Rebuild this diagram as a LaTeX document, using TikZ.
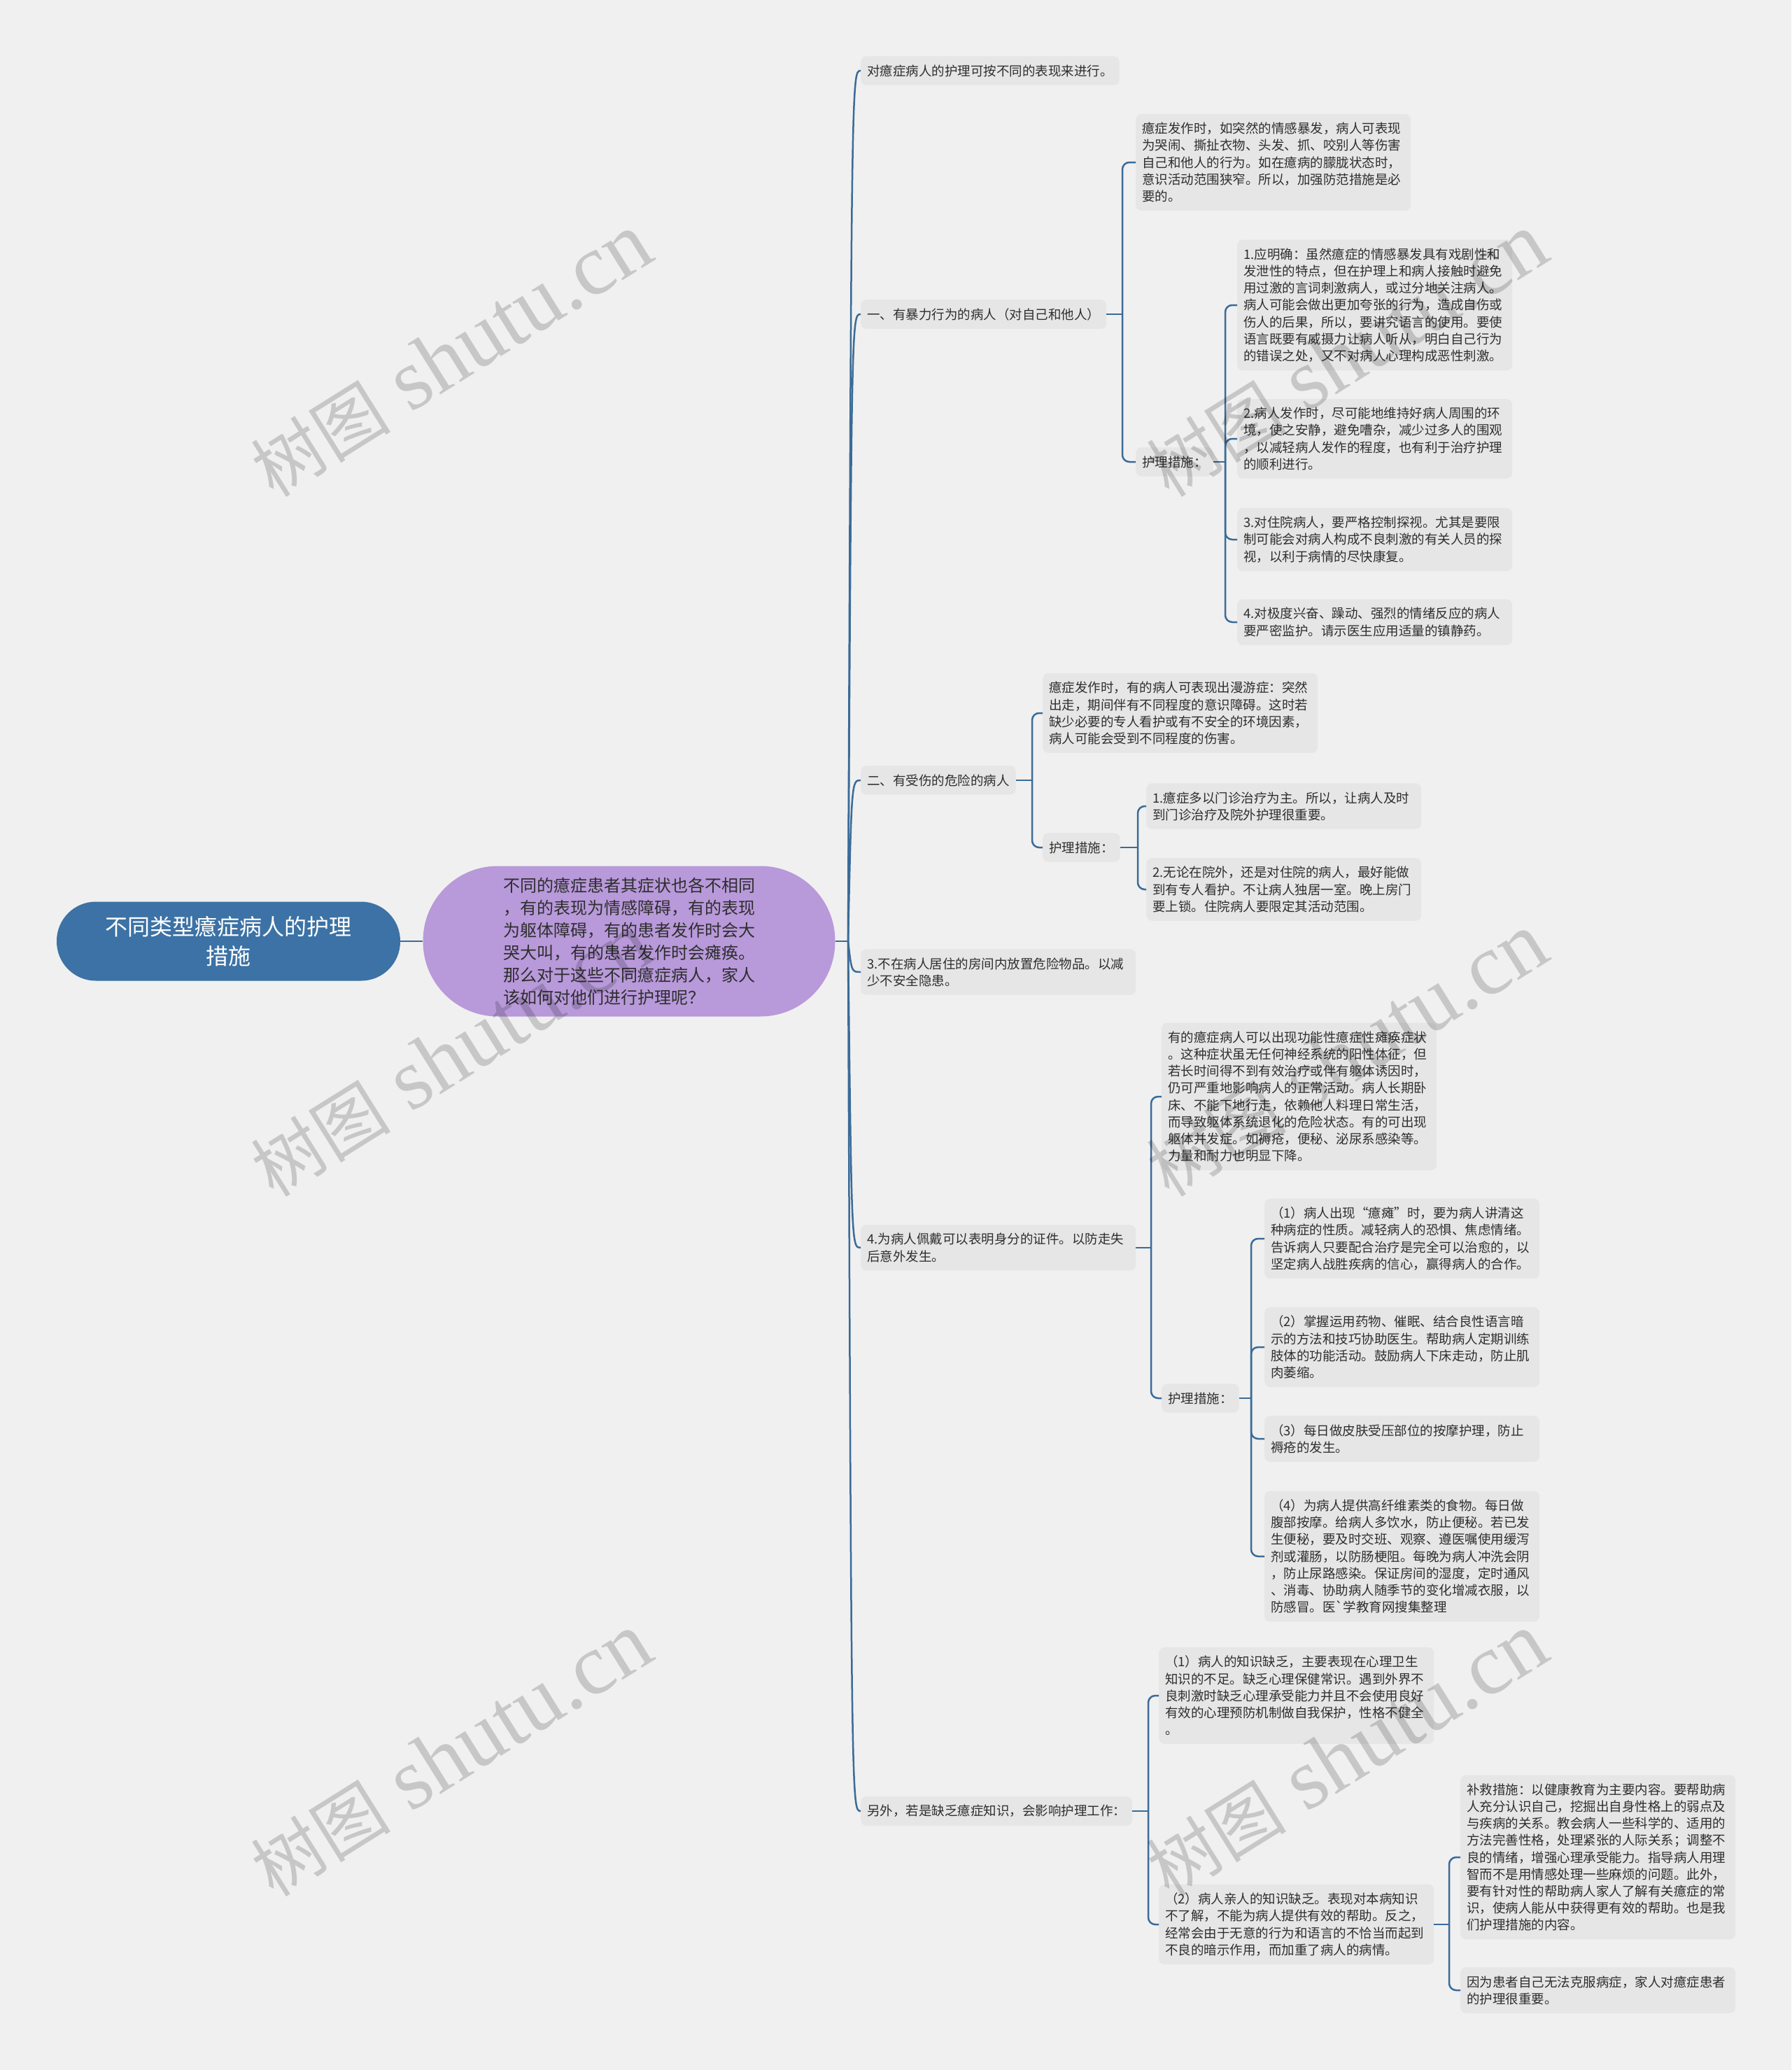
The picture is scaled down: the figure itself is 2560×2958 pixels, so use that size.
\documentclass[tikz,border=0pt]{standalone}
\usepackage{fontspec}
\newfontfamily\cjk{Noto Sans CJK SC}
\newfontfamily\wmserif{Liberation Serif}
\definecolor{bgc}{HTML}{F0F0F0}
\definecolor{boxc}{HTML}{E6E6E6}
\definecolor{linec}{HTML}{3B6B98}
\definecolor{rootc}{HTML}{3C72A5}
\definecolor{purp}{HTML}{B899DA}
\definecolor{txt}{HTML}{2E2E2E}
\tikzset{
  leaf/.style={fill=boxc, rounded corners=8pt, inner xsep=9pt, inner ysep=12pt, align=left, anchor=west, text=txt, font=\cjk\fontsize{18.5}{24.2}\selectfont},
  wide/.style={text width=375pt},
  conn/.style={draw=linec, line width=2.5pt, rounded corners=10pt},
  wm/.style={text=black, opacity=0.17, rotate=32, inner sep=0pt}
}
\begin{document}
\begin{tikzpicture}[x=1pt,y=-1pt]
\fill[bgc] (0,0) rectangle (2560,2958);
\useasboundingbox (0,0) rectangle (2560,2958);

% root and centre
\node[fill=rootc, rounded corners=56pt, minimum width=491pt, minimum height=113pt, text=white, align=center, font=\cjk\fontsize{32}{41.5}\selectfont, inner sep=0pt] (root) at (326.5,1345) {不同类型癔症病人的护理\\措施};
\node[fill=purp, rounded corners=107pt, minimum width=589pt, minimum height=215pt, text=txt, align=left, font=\cjk\fontsize{24}{32}\selectfont, inner sep=0pt] (ctr) at (899,1345) {不同的癔症患者其症状也各不相同\\，有的表现为情感障碍，有的表现\\为躯体障碍，有的患者发作时会大\\哭大叫，有的患者发作时会瘫痪。\\那么对于这些不同癔症病人，家人\\该如何对他们进行护理呢？};

% level 1
\node[leaf] (a1) at (1230,101) {对癔症病人的护理可按不同的表现来进行。};
\node[leaf] (b1) at (1230,449) {一、有暴力行为的病人（对自己和他人）};
\node[leaf] (c1) at (1230,1115) {二、有受伤的危险的病人};
\node[leaf,wide] (d1) at (1230,1389) {3.不在病人居住的房间内放置危险物品。以减\\少不安全隐患。};
\node[leaf,wide] (e1) at (1230,1783) {4.为病人佩戴可以表明身分的证件。以防走失\\后意外发生。};
\node[leaf] (f1) at (1230,2588) {另外，若是缺乏癔症知识，会影响护理工作：};

% branch b
\node[leaf,wide] (b2a) at (1623,232) {癔症发作时，如突然的情感暴发，病人可表现\\为哭闹、撕扯衣物、头发、抓、咬别人等伤害\\自己和他人的行为。如在癔病的朦胧状态时，\\意识活动范围狭窄。所以，加强防范措施是必\\要的。};
\node[leaf] (b2b) at (1623,660) {护理措施：};
\node[leaf,wide] (b3a) at (1768,436) {1.应明确：虽然癔症的情感暴发具有戏剧性和\\发泄性的特点，但在护理上和病人接触时避免\\用过激的言词刺激病人，或过分地关注病人。\\病人可能会做出更加夸张的行为，造成自伤或\\伤人的后果，所以，要讲究语言的使用。要使\\语言既要有威摄力让病人听从，明白自己行为\\的错误之处，又不对病人心理构成恶性刺激。};
\node[leaf,wide] (b3b) at (1768,627) {2.病人发作时，尽可能地维持好病人周围的环\\境，使之安静，避免嘈杂，减少过多人的围观\\，以减轻病人发作的程度，也有利于治疗护理\\的顺利进行。};
\node[leaf,wide] (b3c) at (1768,771) {3.对住院病人，要严格控制探视。尤其是要限\\制可能会对病人构成不良刺激的有关人员的探\\视，以利于病情的尽快康复。};
\node[leaf,wide] (b3d) at (1768,889) {4.对极度兴奋、躁动、强烈的情绪反应的病人\\要严密监护。请示医生应用适量的镇静药。};

% branch c
\node[leaf,wide] (c2a) at (1490,1019) {癔症发作时，有的病人可表现出漫游症：突然\\出走，期间伴有不同程度的意识障碍。这时若\\缺少必要的专人看护或有不安全的环境因素，\\病人可能会受到不同程度的伤害。};
\node[leaf] (c2b) at (1490,1211) {护理措施：};
\node[leaf,wide] (c3a) at (1638,1152) {1.癔症多以门诊治疗为主。所以，让病人及时\\到门诊治疗及院外护理很重要。};
\node[leaf,wide] (c3b) at (1638,1271) {2.无论在院外，还是对住院的病人，最好能做\\到有专人看护。不让病人独居一室。晚上房门\\要上锁。住院病人要限定其活动范围。};

% branch e
\node[leaf,wide] (e2a) at (1660,1567) {有的癔症病人可以出现功能性癔症性瘫痪症状\\。这种症状虽无任何神经系统的阳性体征，但\\若长时间得不到有效治疗或伴有躯体诱因时，\\仍可严重地影响病人的正常活动。病人长期卧\\床、不能下地行走，依赖他人料理日常生活，\\而导致躯体系统退化的危险状态。有的可出现\\躯体并发症。如褥疮，便秘、泌尿系感染等。\\力量和耐力也明显下降。};
\node[leaf] (e2b) at (1660,1998) {护理措施：};
\node[leaf,wide] (e3a) at (1807,1770) {（1）病人出现“癔瘫”时，要为病人讲清这\\种病症的性质。减轻病人的恐惧、焦虑情绪。\\告诉病人只要配合治疗是完全可以治愈的，以\\坚定病人战胜疾病的信心，赢得病人的合作。};
\node[leaf,wide] (e3b) at (1807,1925) {（2）掌握运用药物、催眠、结合良性语言暗\\示的方法和技巧协助医生。帮助病人定期训练\\肢体的功能活动。鼓励病人下床走动，防止肌\\肉萎缩。};
\node[leaf,wide] (e3c) at (1807,2056) {（3）每日做皮肤受压部位的按摩护理，防止\\褥疮的发生。};
\node[leaf,wide] (e3d) at (1807,2224) {（4）为病人提供高纤维素类的食物。每日做\\腹部按摩。给病人多饮水，防止便秘。若已发\\生便秘，要及时交班、观察、遵医嘱使用缓泻\\剂或灌肠，以防肠梗阻。每晚为病人冲洗会阴\\，防止尿路感染。保证房间的湿度，定时通风\\、消毒、协助病人随季节的变化增减衣服，以\\防感冒。医`学教育网搜集整理};

% branch f
\node[leaf,wide] (f2a) at (1656,2423) {（1）病人的知识缺乏，主要表现在心理卫生\\知识的不足。缺乏心理保健常识。遇到外界不\\良刺激时缺乏心理承受能力并且不会使用良好\\有效的心理预防机制做自我保护，性格不健全\\。};
\node[leaf,wide] (f2b) at (1656,2750) {（2）病人亲人的知识缺乏。表现对本病知识\\不了解，不能为病人提供有效的帮助。反之，\\经常会由于无意的行为和语言的不恰当而起到\\不良的暗示作用，而加重了病人的病情。};
\node[leaf,wide] (f3a) at (2087,2654) {补救措施：以健康教育为主要内容。要帮助病\\人充分认识自己，挖掘出自身性格上的弱点及\\与疾病的关系。教会病人一些科学的、适用的\\方法完善性格，处理紧张的人际关系；调整不\\良的情绪，增强心理承受能力。指导病人用理\\智而不是用情感处理一些麻烦的问题。此外，\\要有针对性的帮助病人家人了解有关癔症的常\\识，使病人能从中获得更有效的帮助。也是我\\们护理措施的内容。};
\node[leaf,wide] (f3b) at (2087,2844) {因为患者自己无法克服病症，家人对癔症患者\\的护理很重要。};

% connectors
\draw[conn] (root.east) -- (ctr.west);
\coordinate (s1) at (1212,1345);
\draw[conn] (ctr.east) -- (s1);
\foreach \n in {a1,b1,c1,d1,e1,f1}{
  \draw[draw=linec, line width=2.5pt] (s1) .. controls (1217,0 |- \n.west) and (1217,0 |- \n.west) .. (\n.west);
}
% b
\coordinate (sb) at (1604,449);
\draw[conn] (b1.east) -- (sb);
\foreach \n in {b2a,b2b}{\draw[conn] (sb) -- (sb |- \n.west) -- (\n.west);}
\coordinate (sbb) at (1751,660);
\draw[conn] (b2b.east) -- (sbb);
\foreach \n in {b3a,b3b,b3c,b3d}{\draw[conn] (sbb) -- (sbb |- \n.west) -- (\n.west);}
% c
\coordinate (sc) at (1475,1115);
\draw[conn] (c1.east) -- (sc);
\foreach \n in {c2a,c2b}{\draw[conn] (sc) -- (sc |- \n.west) -- (\n.west);}
\coordinate (scb) at (1626,1211);
\draw[conn] (c2b.east) -- (scb);
\foreach \n in {c3a,c3b}{\draw[conn] (scb) -- (scb |- \n.west) -- (\n.west);}
% e
\coordinate (se) at (1645,1783);
\draw[conn] (e1.east) -- (se);
\foreach \n in {e2a,e2b}{\draw[conn] (se) -- (se |- \n.west) -- (\n.west);}
\coordinate (seb) at (1788,1998);
\draw[conn] (e2b.east) -- (seb);
\foreach \n in {e3a,e3b,e3c,e3d}{\draw[conn] (seb) -- (seb |- \n.west) -- (\n.west);}
% f
\coordinate (sf) at (1641,2588);
\draw[conn] (f1.east) -- (sf);
\foreach \n in {f2a,f2b}{\draw[conn] (sf) -- (sf |- \n.west) -- (\n.west);}
\coordinate (sfb) at (2071,2750);
\draw[conn] (f2b.east) -- (sfb);
\foreach \n in {f3a,f3b}{\draw[conn] (sfb) -- (sfb |- \n.west) -- (\n.west);}

% watermarks
\foreach \p [count=\i] in {(645,508),(1925,508),(645,1508),(1925,1508),(645,2508),(1925,2508)}{
  \node[wm] (wm\i) at \p {{\cjk\fontsize{100}{100}\selectfont 树图}\hspace{30pt}{\wmserif\fontsize{124}{124}\selectfont shutu.cn}};
}
\end{tikzpicture}
\end{document}
